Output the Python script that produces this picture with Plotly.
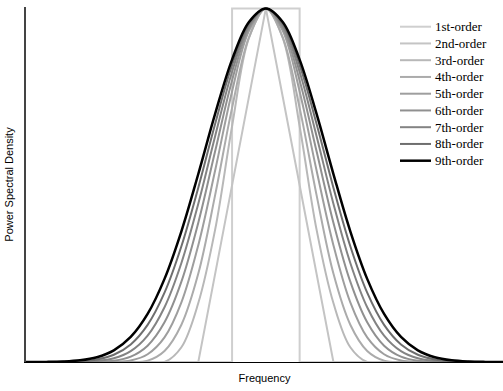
import plotly.graph_objects as go

# Normalised spectral shapes, sampled at offsets u = 0, 0.25, ..., 3.75 (in box widths)
u_half = [0.0, 0.25, 0.5, 0.75, 1.0, 1.25, 1.5, 1.75, 2.0, 2.25, 2.5, 2.75, 3.0, 3.25, 3.5, 3.75]

box_x = [-3.75, -0.5, -0.5, 0.5, 0.5, 3.75]
box_y = [0, 0, 1, 1, 0, 0]

o2 = [1, 0.75, 0.5, 0.25, 0, 0, 0, 0, 0, 0, 0, 0, 0, 0, 0, 0]
o3 = [1, 0.9167, 0.6667, 0.375, 0.1667, 0.0417, 0, 0, 0, 0, 0, 0, 0, 0, 0, 0]
o4 = [1, 0.9180, 0.7188, 0.4727, 0.25, 0.1055, 0.0313, 0.0039, 0, 0, 0, 0, 0, 0, 0, 0]
o5 = [1, 0.9364, 0.7652, 0.5424, 0.3304, 0.1685, 0.0696, 0.0220, 0.0043, 0.0003, 0, 0, 0, 0, 0, 0]
o6 = [1, 0.9448, 0.7964, 0.5965, 0.3939, 0.2271, 0.1122, 0.0462, 0.0152, 0.0036, 0.0005, 0, 0, 0, 0, 0]
o7 = [1, 0.9521, 0.8208, 0.6392, 0.4477, 0.2801, 0.1549, 0.0747, 0.0307, 0.0104, 0.0027, 0.0005, 0.00004, 0, 0, 0]
o8 = [1, 0.9574, 0.8399, 0.6738, 0.4930, 0.3274, 0.1961, 0.1050, 0.0497, 0.0204, 0.0070, 0.0020, 0.0004, 0.00006, 0, 0]
o9 = [1, 0.9618, 0.8553, 0.7024, 0.5316, 0.3696, 0.2351, 0.1360, 0.0709, 0.0330, 0.0135, 0.0048, 0.0014, 0.0003, 0.00005, 0]

names = ["1st-order", "2nd-order", "3rd-order", "4th-order", "5th-order",
         "6th-order", "7th-order", "8th-order", "9th-order"]
colors = ["#cfcfcf", "#c4c4c4", "#b8b8b8", "#ababab", "#9e9e9e",
          "#909090", "#838383", "#6e6e6e", "#000000"]
widths = [2, 2, 2, 2, 2, 2, 2, 2, 2.5]

W, H = 503, 391
ML, MR, MT, MB = 26, 0, 7, 29

def mirror(half):
    return half[:0:-1] + half

x_full = [-v for v in u_half[:0:-1]] + u_half

fig = go.Figure()
fig.add_trace(go.Scatter(x=box_x, y=box_y, mode="lines", name=names[0],
                         line=dict(color=colors[0], width=widths[0])))
fig.add_trace(go.Scatter(x=x_full, y=mirror(o2), mode="lines", name=names[1],
                         line=dict(color=colors[1], width=widths[1])))
for i, half in enumerate([o3, o4, o5, o6, o7, o8, o9]):
    k = i + 2
    fig.add_trace(go.Scatter(x=x_full, y=mirror(half), mode="lines", name=names[k],
                             line=dict(color=colors[k], width=widths[k],
                                       shape="spline", smoothing=1)))

# Legend drawn as line samples + text labels (compact row spacing as in the reference)
pw, ph = W - ML - MR, H - MT - MB
def px_x(p):
    return (p - ML) / pw
def px_y(p):
    return (H - MB - p) / ph

row0, step = 26.7, 16.75
for i, (nm, c, w) in enumerate(zip(names, colors, widths)):
    yy = px_y(row0 + step * i)
    fig.add_shape(type="line", xref="paper", yref="paper",
                  x0=px_x(400), x1=px_x(431), y0=yy, y1=yy,
                  line=dict(color=c, width=w))
    fig.add_annotation(xref="paper", yref="paper", x=px_x(433), y=yy,
                       xanchor="left", yanchor="middle", showarrow=False,
                       text=nm, font=dict(family="Liberation Serif", size=13, color="black"))

fig.update_layout(
    width=W, height=H,
    margin=dict(l=ML, r=MR, t=MT, b=MB),
    paper_bgcolor="white", plot_bgcolor="white",
    showlegend=False,
    xaxis=dict(range=[-3.55, 3.51], showgrid=False, zeroline=False,
               showticklabels=False, ticks="", showline=True,
               linecolor="black", linewidth=1, layer="below traces",
               title=dict(text="Frequency", standoff=12,
                          font=dict(family="Liberation Sans", size=11, color="black"))),
    yaxis=dict(range=[0, 1.004], showgrid=False, zeroline=False,
               showticklabels=False, ticks="", showline=True,
               linecolor="#444444", linewidth=1.5, layer="below traces",
               title=dict(text="Power Spectral Density", standoff=8,
                          font=dict(family="Liberation Sans", size=11, color="black"))),
)

fig.write_html("out.html", config={"displayModeBar": False},
               post_script="document.body.style.margin='0';")
